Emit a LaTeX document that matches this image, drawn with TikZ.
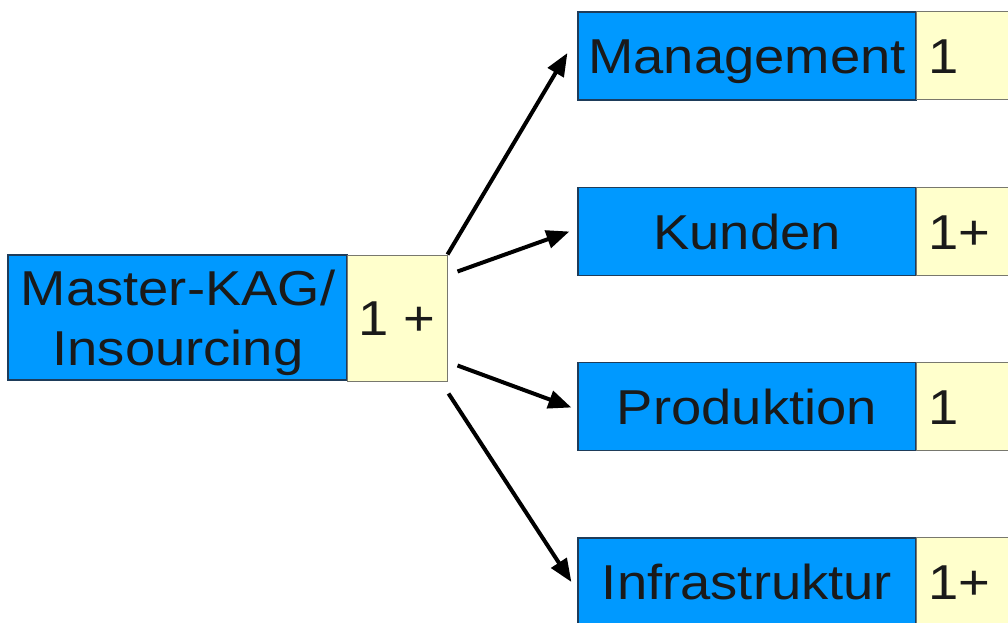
\documentclass[tikz,border=0pt]{standalone}
\usepackage{fontspec}
\setmainfont[FakeStretch=1.11]{Liberation Sans}
\usetikzlibrary{arrows.meta,calc}
\definecolor{boxblue}{RGB}{0,153,255}
\definecolor{boxyellow}{RGB}{255,255,204}
\definecolor{txt}{RGB}{26,26,26}
\definecolor{blueedge}{RGB}{30,60,90}
\definecolor{yedge}{RGB}{120,120,110}
\tikzset{
  bigfont/.style={text=txt,font=\fontsize{49}{60}\selectfont},
  bluebox/.style={draw=blueedge,line width=1.2pt,fill=boxblue,inner sep=0pt,
    bigfont,text height=35pt,text depth=0pt},
  ybox/.style={draw=yedge,line width=1pt,fill=boxyellow,inner sep=0pt,
    bigfont,text height=35pt,text depth=0pt},
  numtxt/.style={bigfont,anchor=west,inner sep=0pt,text height=35pt,text depth=0pt},
  conn/.style={line width=4pt,-{Triangle[length=23pt,width=18pt]}},
}
\begin{document}
\begin{tikzpicture}[x=1pt,y=1pt]
\useasboundingbox (0,0) rectangle (1008,622);
\clip (0,0) rectangle (1008,622);
% master
\node[bluebox,minimum width=339pt,minimum height=125pt] (m) at (177.5,304.5) {};
\node[bigfont,align=center,inner sep=0pt] (mt) at (178,299.5) {Master-KAG/\\Insourcing};
\node[ybox,minimum width=100pt,minimum height=126pt] (my) at (397,304) {1 +};
% right boxes
\node[bluebox,minimum width=338pt,minimum height=88pt] (a) at (747,566) {Management};
\node[ybox,minimum width=130pt,minimum height=88pt,anchor=west] (ay) at (916,566) {};
\node[numtxt] (at) at (928,566) {1};
\node[bluebox,minimum width=338pt,minimum height=88pt] (b) at (747,390.5) {Kunden};
\node[ybox,minimum width=130pt,minimum height=88pt,anchor=west] (by) at (916,390.5) {};
\node[numtxt] (bt) at (928,390.5) {1+};
\node[bluebox,minimum width=338pt,minimum height=88pt] (c) at (747,215.5) {Produktion};
\node[ybox,minimum width=130pt,minimum height=88pt,anchor=west] (cy) at (916,215.5) {};
\node[numtxt] (ct) at (928,215.5) {1};
\node[bluebox,minimum width=338pt,minimum height=88pt] (d) at (747,40) {Infrastruktur};
\node[ybox,minimum width=130pt,minimum height=89pt,anchor=west] (dy) at (916,40.5) {};
\node[numtxt] (dt) at (928,40) {1+};
% connectors
\draw[conn] ($(my.north east)+(0,0)$) -- ($(a.west)+(-10,3)$);
\draw[conn] ($(my.north east)+(10,-17)$) -- ($(b.west)+(-8,0)$);
\draw[conn] ($(my.south east)+(10,16)$) -- ($(c.west)+(-6,-1)$);
\draw[conn] ($(my.south east)+(1,-12)$) -- ($(d.west)+(-6,0)$);
\end{tikzpicture}
\end{document}
